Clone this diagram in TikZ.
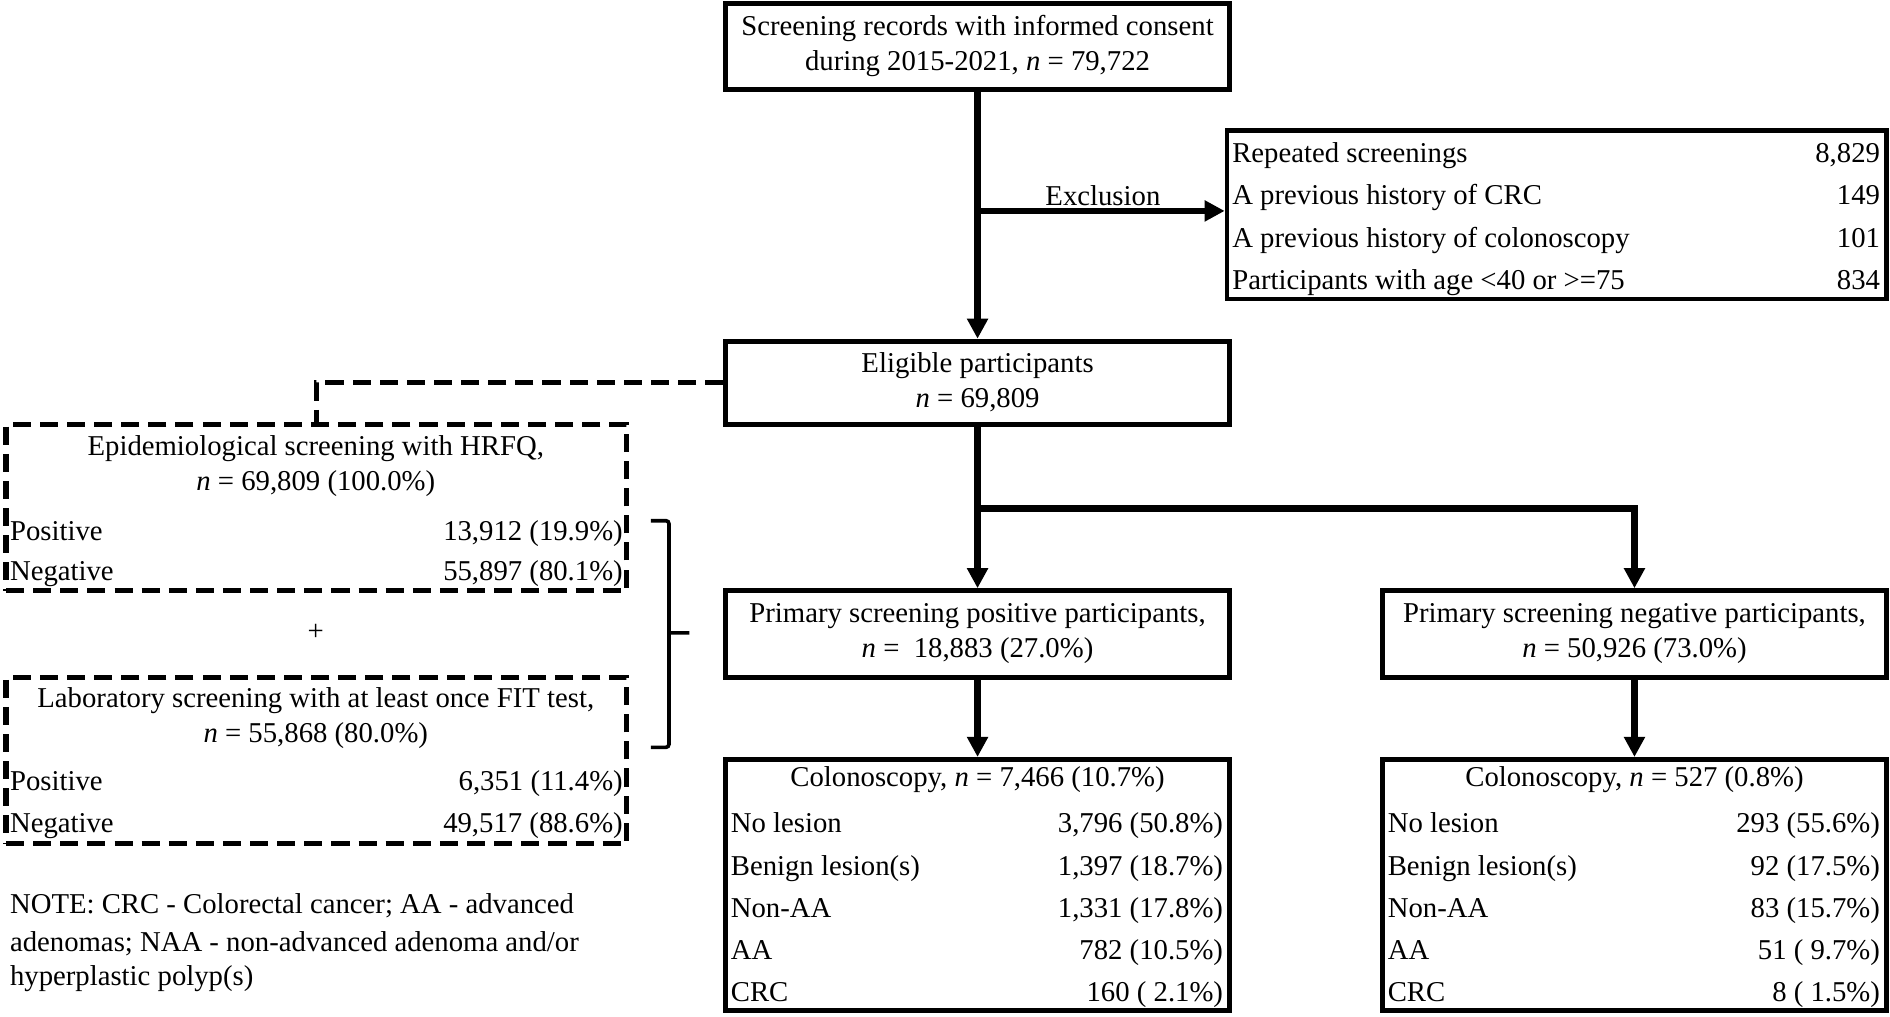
\documentclass[tikz,border=0pt]{standalone}
\usepackage{fontspec}
\setmainfont{Liberation Serif}
\usetikzlibrary{arrows.meta}
\def\u{0.6pt}
\tikzset{
  every node/.style={font=\fontsize{14.3}{17.4}\selectfont},
  box/.style={draw, line width=2.4pt, minimum width=418*\u, inner sep=0pt, align=center},
  dbox/.style={draw, line width=2.6pt, dash pattern=on 9pt off 4.5pt, minimum width=515*\u, minimum height=138*\u, inner sep=0pt},
  txt/.style={inner sep=0pt},
  link/.style={line width=3.4pt, -{Triangle[length=10pt,width=10pt]}},
  dlink/.style={line width=2.6pt, dash pattern=on 9pt off 4.5pt},
  bracket/.style={line width=1.8pt, rounded corners=1.5pt},
}
\begin{document}
\begin{tikzpicture}[x=0.6pt,y=-0.6pt]
  \useasboundingbox (0,0) rectangle (1568,843.7);

  % main column
  \node[box, minimum height=71*\u] (top) at (811,38.5) {Screening records with informed consent\\during 2015-2021, \textit{n} = 79,722};
  \node[box, minimum height=69*\u] (elig) at (811,317.5) {Eligible participants\\\textit{n} = 69,809};
  \node[box, minimum height=72*\u] (pos) at (811,526) {Primary screening positive participants,\\\textit{n} = \ 18,883 (27.0\%)};
  \node[box, minimum height=72*\u] (neg) at (1356,526) {Primary screening negative participants,\\\textit{n} = 50,926 (73.0\%)};

  % exclusion
  \node[box, minimum width=547*\u, minimum height=140*\u] (excl) at (1291.5,178) {};
  \foreach \lab/\val [count=\i from 0] in {Repeated screenings/{8,829}, A previous history of CRC/149, A previous history of colonoscopy/101, Participants with age <40 or >=75/834} {
    \node[txt, anchor=base west] (excl-l\i) at (1022,135+35*\i) {\lab};
    \node[txt, anchor=base east] (excl-r\i) at (1560,135+35*\i) {\val};
  }
  \coordinate (exclsplit) at (811,175);
  \node (exlab) at (915,162) {Exclusion};

  \draw[link] (top.south) -- (elig.north);
  \draw[link] (exclsplit) -- (exclsplit -| excl.west);

  % screening methods
  \node[dbox] (hrfq) at (262.5,421) {};
  \node[txt, align=center] (hrfq-t) at (262,387) {Epidemiological screening with HRFQ,\\\textit{n} = 69,809 (100.0\%)};
  \node[txt, anchor=base west] (hrfq-l1) at (8,448) {Positive};
  \node[txt, anchor=base east] (hrfq-r1) at (517,448) {13,912 (19.9\%)};
  \node[txt, anchor=base west] (hrfq-l2) at (8,482) {Negative};
  \node[txt, anchor=base east] (hrfq-r2) at (517,482) {55,897 (80.1\%)};

  \node (plus) at (262,525) {+};

  \node[dbox] (fit) at (262.5,631) {};
  \node[txt, align=center] (fit-t) at (262,596) {Laboratory screening with at least once FIT test,\\\textit{n} = 55,868 (80.0\%)};
  \node[txt, anchor=base west] (fit-l1) at (8,656) {Positive};
  \node[txt, anchor=base east] (fit-r1) at (517,656) {6,351 (11.4\%)};
  \node[txt, anchor=base west] (fit-l2) at (8,691) {Negative};
  \node[txt, anchor=base east] (fit-r2) at (517,691) {49,517 (88.6\%)};

  \draw[dlink] (elig.west) -| (hrfq.north);
  \draw[bracket] (540,432) -| (555,620) -- (540,620) (555,525) -- (572,525);

  % split into positive / negative
  \coordinate (split) at (811,422);
  \draw[link] (elig.south) -- (pos.north);
  \draw[link] (split) -| (neg.north);

  % colonoscopy results
  \node[box, minimum height=208*\u] (colpos) at (811,734) {};
  \node[txt] (colpos-t) at (811,647) {Colonoscopy, \textit{n} = 7,466 (10.7\%)};
  \foreach \lab/\val [count=\i from 0] in {No lesion/{3,796 (50.8\%)}, Benign lesion(s)/{1,397 (18.7\%)}, Non-AA/{1,331 (17.8\%)}, AA/{782 (10.5\%)}, CRC/{160 ( 2.1\%)}} {
    \node[txt, anchor=base west] (colpos-l\i) at (606,691+35*\i) {\lab};
    \node[txt, anchor=base east] (colpos-r\i) at (1015,691+35*\i) {\val};
  }

  \node[box, minimum height=208*\u] (colneg) at (1356,734) {};
  \node[txt] (colneg-t) at (1356,647) {Colonoscopy, \textit{n} = 527 (0.8\%)};
  \foreach \lab/\val [count=\i from 0] in {No lesion/{293 (55.6\%)}, Benign lesion(s)/{92 (17.5\%)}, Non-AA/{83 (15.7\%)}, AA/{51 ( 9.7\%)}, CRC/{8 ( 1.5\%)}} {
    \node[txt, anchor=base west] (colneg-l\i) at (1151,691+35*\i) {\lab};
    \node[txt, anchor=base east] (colneg-r\i) at (1560,691+35*\i) {\val};
  }

  \draw[link] (pos.south) -- (colpos.north);
  \draw[link] (neg.south) -- (colneg.north);

  % note
  \node[txt, anchor=base west] (note1) at (8,758) {NOTE: CRC - Colorectal cancer; AA - advanced};
  \node[txt, anchor=base west] (note2) at (8,789) {adenomas; NAA - non-advanced adenoma and/or};
  \node[txt, anchor=base west] (note3) at (8,818) {hyperplastic polyp(s)};
\end{tikzpicture}
\end{document}
